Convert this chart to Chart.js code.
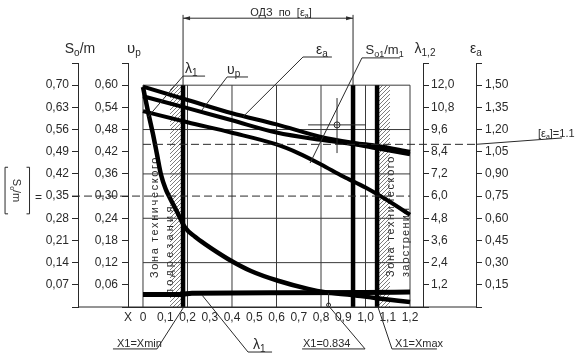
<!DOCTYPE html>
<html lang="ru">
<head>
<meta charset="utf-8">
<title>Номограмма</title>
<script src="https://cdn.jsdelivr.net/npm/chart.js@4.4.1/dist/chart.umd.min.js"></script>
<style>
  html, body { margin: 0; padding: 0; background: #fff; }
  canvas { display: block; }
</style>
</head>
<body>
<canvas id="nomo" width="578" height="359"></canvas>
<script>
// feed X
const xTicks = [0, 0.1, 0.2, 0.3, 0.4, 0.5, 0.6, 0.7, 0.8, 0.9, 1.0, 1.1, 1.2]
const gridX = [0, 0.2, 0.4, 0.6, 0.8, 1.0, 1.2]

// tick labels of the four value axes (ten labelled steps + one spare on top)
const swTicks = [0.07, 0.14, 0.21, 0.28, 0.35, 0.42, 0.49, 0.56, 0.63, 0.70]
const vpTicks = [0.06, 0.12, 0.18, 0.24, 0.30, 0.36, 0.42, 0.48, 0.54, 0.60]
const lambdaTicks = [1.2, 2.4, 3.6, 4.8, 6.0, 7.2, 8.4, 9.6, 10.8, 12.0]
const epsTicks = [0.15, 0.30, 0.45, 0.60, 0.75, 0.90, 1.05, 1.20, 1.35, 1.50]
const swMax = 0.77, vpMax = 0.66, lambdaMax = 13.2, epsMax = 1.65
const gridSw = [0.14, 0.28, 0.42, 0.56, 0.70]

// curves
const lineX = [0, 0.2, 0.4, 0.6, 0.8, 0.95, 1.05, 1.2]
const epsA = [1.49, 1.40, 1.31, 1.235, 1.15, 1.11, 1.09, 1.05]
const vp = [0.570, 0.538, 0.505, 0.472, 0.452, 0.440, 0.429, 0.413]
const s1X = [0, 0.2, 0.4, 0.6, 0.7, 0.8, 0.9, 1.0, 1.1, 1.2]
const s1m1 = [0.618, 0.583, 0.550, 0.513, 0.485, 0.450, 0.412, 0.377, 0.336, 0.291]
const lam2X = [0, 0.022, 0.045, 0.063, 0.081, 0.103, 0.121, 0.153, 0.189, 0.234, 0.279, 0.382, 0.485, 0.607, 0.742, 0.818, 0.939, 1.043, 1.2]
const lam2 = [11.9, 10.6, 9.35, 8.25, 7.15, 6.35, 5.9, 5.15, 4.3, 3.8, 3.4, 2.6, 1.95, 1.42, 0.98, 0.8, 0.65, 0.49, 0.27]
const lam1X = [0, 0.17, 0.22, 0.6, 1.0, 1.2]
const lam1 = [0.68, 0.68, 0.75, 0.77, 0.79, 0.81]

// limits
const xMin = 0.18, xOpt = 0.834, xLim = 0.944, xMax = 1.052
const epsLimit = 1.1, swLimit = 0.35
const cutZone = [0.121, 0.18], sharpZone = [1.052, 1.11]

// layout
const xLo = -0.0674, xHi = 1.2584
const FONT = '"Liberation Sans", Arial, sans-serif'
const INK = "#2a2a2a"
const GRID = "#3a3a3a"

const fmt = (v, d) => v === 0 ? "0" : v.toFixed(d).replace(".", ",")
const tickFont = { family: FONT, size: 12 }

const hatch = (() => {
  const c = document.createElement("canvas")
  c.width = 4; c.height = 4
  const g = c.getContext("2d")
  g.strokeStyle = "#444"
  g.lineWidth = 0.7
  g.beginPath()
  g.moveTo(0, 4); g.lineTo(4, 0)
  g.moveTo(-1, 1); g.lineTo(1, -1)
  g.moveTo(3, 5); g.lineTo(5, 3)
  g.stroke()
  return g.createPattern(c, "repeat")
})()

function yAxis(position, weight, max, ticks, digits, width, pad) {
  return {
    type: "linear", position, weight, min: 0, max,
    afterFit: s => { s.width = width },
    afterBuildTicks: s => { s.ticks = [0, ...ticks, max].map(value => ({ value })) },
    grid: { drawOnChartArea: false, color: INK, tickLength: 6 },
    border: { color: INK, width: 1 },
    ticks: { padding: pad, color: INK, font: tickFont, callback: v => ticks.includes(v) ? fmt(v, digits) : "" }
  }
}

const curve = (xs, ys, axis, width) => ({
  data: xs.map((x, i) => ({ x, y: ys[i] })), yAxisID: axis,
  borderColor: "#000", borderWidth: width, pointRadius: 0,
  cubicInterpolationMode: "monotone", fill: false
})
const rule = (pts, width, color) => ({
  data: pts, yAxisID: "ySw", borderColor: color, borderWidth: width,
  pointRadius: 0, tension: 0, fill: false
})
const gridTop = swTicks[swTicks.length - 1]

const datasets = [
  curve(lineX, epsA, "yEps", 4),
  curve(lineX, vp, "yVp", 4),
  curve(s1X, s1m1, "ySw", 4),
  curve(lam2X, lam2, "yLam", 4.5),
  curve(lam1X, lam1, "yLam", 5),
  ...[xMin, xLim, xMax].map(v => rule([{ x: v, y: 0 }, { x: v, y: gridTop }], 4.5, "#000")),
  ...[cutZone, sharpZone].map(([a, b]) => ({
    data: [{ x: a, y: gridTop }, { x: b, y: gridTop }], yAxisID: "ySw",
    borderWidth: 0, borderColor: "rgba(0,0,0,0)", pointRadius: 0,
    fill: "origin", backgroundColor: hatch
  })),
  ...gridX.map(v => rule([{ x: v, y: 0 }, { x: v, y: gridTop }], 1, GRID)),
  ...gridSw.map(v => rule([{ x: xTicks[0], y: v }, { x: xTicks[xTicks.length - 1], y: v }], 1, GRID))
]

// text helpers: "S_{o}/m" draws "o" as a subscript
function rich(ctx, src, x, y, align, size) {
  const parts = src.split(/_\{|\}/)
  const fonts = parts.map((_, i) => (i % 2 ? Math.round(size * 0.68) : size) + "px " + FONT)
  const widths = parts.map((t, i) => { ctx.font = fonts[i]; return ctx.measureText(t).width })
  const total = widths.reduce((a, b) => a + b, 0)
  let cx = align === "center" ? x - total / 2 : align === "right" ? x - total : x
  ctx.textAlign = "left"
  ctx.textBaseline = "alphabetic"
  parts.forEach((t, i) => {
    ctx.font = fonts[i]
    ctx.fillText(t, cx, i % 2 ? y + size * 0.22 : y)
    cx += widths[i]
  })
}
function stroke(ctx, pts) {
  ctx.beginPath()
  pts.forEach(([a, b], i) => i ? ctx.lineTo(a, b) : ctx.moveTo(a, b))
  ctx.stroke()
}

// callouts: text anchor and leader path, in (feed, grid step) units
const leaders = [
  { text: "λ_{1}", size: 14, tx: 0.189, tg: 10.55, path: [[0.279, 10.41], [0.18, 10.41], [0.0225, 8.57]] },
  { text: "υ_{p}", size: 14, tx: 0.378, tg: 10.5, path: [[0.472, 10.37], [0.378, 10.37], [0.265, 8.88]] },
  { text: "ε_{a}", size: 14, tx: 0.778, tg: 11.41, path: [[0.849, 11.27], [0.719, 11.27], [0.449, 8.57]] },
  { text: "S_{o1}/m_{1}", size: 13, tx: 1.0, tg: 11.41, path: [[1.155, 11.23], [0.984, 11.23], [0.751, 6.49]] },
  { text: "X1=Xmin", size: 11, tx: -0.117, tg: -1.8, path: [[-0.135, -1.89], [0.063, -1.89], [0.18, -0.05]] },
  { text: "λ_{1}", size: 14, tx: 0.494, tg: -1.89, path: [[0.58, -2.03], [0.472, -2.03], [0.265, 0.54]] },
  { text: "X1=0.834", size: 11, tx: 0.719, tg: -1.8, path: [[0.715, -1.89], [0.998, -1.89], [0.831, 0.09]] },
  { text: "X1=Xmax", size: 11, tx: 1.133, tg: -1.8, path: [[1.321, -1.89], [1.119, -1.89], [1.056, 0]] }
]
const zoneTexts = [
  { text: "Зона технического", x: 0.054, g: 1.31, gap: 1.6 },
  { text: "подрезания", x: 0.121, g: 0.54, gap: 3.2 },
  { text: "Зона технического", x: 1.115, g: 1.35, gap: 1.6 },
  { text: "заострения", x: 1.182, g: 1.35, gap: 1.2 }
]

const notes = {
  id: "notes",
  beforeDatasetsDraw(chart) {
    const { ctx, scales: { x, ySw } } = chart
    const at = (xv, g) => [x.getPixelForValue(xv), ySw.getPixelForValue(g * swTicks[0])]
    ctx.save()
    ctx.fillStyle = INK
    ctx.font = "11px " + FONT
    zoneTexts.forEach(z => {
      const [px, py] = at(z.x, z.g)
      ctx.save()
      ctx.translate(px, py)
      ctx.rotate(-Math.PI / 2)
      ctx.letterSpacing = z.gap + "px"
      ctx.textAlign = "left"
      ctx.textBaseline = "middle"
      ctx.fillText(z.text, 0, 0)
      ctx.restore()
    })
    ctx.restore()
  },
  afterDatasetsDraw(chart) {
    const { ctx, scales: { x, ySw, yVp, yLam, yEps } } = chart
    const at = (xv, g) => [x.getPixelForValue(xv), ySw.getPixelForValue(g * swTicks[0])]
    ctx.save()
    ctx.strokeStyle = INK
    ctx.fillStyle = INK
    ctx.lineWidth = 1

    // bottom line running through all four axes
    const y0 = ySw.getPixelForValue(0)
    stroke(ctx, [[ySw.right, y0], [yEps.left, y0]])

    // admissible range dimension
    const xa = x.getPixelForValue(xMin), xb = x.getPixelForValue(xLim)
    const yTop = at(0, 10)[1], yExt = at(0, 13.17)[1], yDim = at(0, 13.02)[1]
    stroke(ctx, [[xa, yTop], [xa, yExt]])
    stroke(ctx, [[xb, yTop], [xb, yExt]])
    stroke(ctx, [[xa, yDim], [xb, yDim]])
    ;[[xa, 1], [xb, -1]].forEach(([t, d]) => {
      ctx.beginPath()
      ctx.moveTo(t, yDim); ctx.lineTo(t + d * 7, yDim - 2); ctx.lineTo(t + d * 7, yDim + 2)
      ctx.closePath(); ctx.fill()
    })
    rich(ctx, "ОДЗ  по  [ε_{a}]", ...at(0.62, 13.12), "center", 11)

    // limit lines
    ctx.setLineDash([8, 4])
    const ye = yEps.getPixelForValue(epsLimit)
    stroke(ctx, [[x.getPixelForValue(0), ye], [yEps.left, ye]])
    const ys = ySw.getPixelForValue(swLimit)
    stroke(ctx, [[at(-0.319, 0)[0], ys], [x.getPixelForValue(1.2), ys]])
    ctx.setLineDash([])
    stroke(ctx, [[yEps.left, ye], at(1.883, 7.62)])
    rich(ctx, "[ε_{a}]=1.1", ...at(1.775, 7.68), "left", 11)

    // left limit label [S/m] =
    ctx.save()
    ctx.translate(...at(-0.568, 5.25))
    ctx.rotate(Math.PI / 2)
    rich(ctx, "S_{o}/m", 0, 4, "center", 11)
    ctx.restore()
    const [bx, by] = at(-0.62, 6.3), [bx2, by2] = at(-0.51, 4.2)
    stroke(ctx, [[bx + 3, by], [bx, by], [bx, by2], [bx + 3, by2]])
    stroke(ctx, [[bx2 - 3, by], [bx2, by], [bx2, by2], [bx2 - 3, by2]])
    rich(ctx, "=", ...at(-0.485, 4.8), "left", 12)

    // crosshair marker
    const [cx, cy] = at(0.872, 8.21)
    stroke(ctx, [at(0.742, 8.21), at(1.002, 8.21)])
    stroke(ctx, [at(0.872, 9.42), at(0.872, 6.94)])
    ctx.beginPath(); ctx.arc(cx, cy, 3, 0, Math.PI * 2); ctx.stroke()

    // intersection point on the feed axis
    const [ox, oy] = at(xOpt, 0.09)
    stroke(ctx, [[ox, oy], at(xOpt, 0.63)])
    ctx.beginPath(); ctx.arc(ox, oy, 2, 0, Math.PI * 2); ctx.stroke()

    // callouts
    leaders.forEach(l => {
      stroke(ctx, l.path.map(p => at(...p)))
      rich(ctx, l.text, ...at(l.tx, l.tg), "left", l.size)
    })

    // axis titles
    const ty = at(0, 11.45)[1]
    rich(ctx, "S_{o}/m", ySw.right + 2, ty, "center", 14)
    rich(ctx, "υ_{p}", yVp.right + 6, ty, "center", 15)
    rich(ctx, "λ_{1,2}", yLam.left + 2, ty, "center", 14)
    rich(ctx, "ε_{a}", yEps.left, ty, "center", 14)
    ctx.restore()
  }
}

new Chart(document.getElementById("nomo"), {
  type: "line",
  data: { datasets },
  plugins: [notes],
  options: {
    responsive: false,
    animation: false,
    devicePixelRatio: 1,
    layout: { padding: { top: 63, left: 0, right: 0, bottom: 0 } },
    plugins: { legend: { display: false }, tooltip: { enabled: false } },
    scales: {
      x: {
        type: "linear", min: xLo, max: xHi,
        afterFit: s => { s.height = 52 },
        afterBuildTicks: s => { s.ticks = [xLo, ...xTicks].map(value => ({ value })) },
        grid: { display: false, drawTicks: false },
        border: { display: true, color: INK, width: 1 },
        ticks: { padding: 3, color: INK, font: tickFont, autoSkip: false, maxRotation: 0,
          callback: v => v === xLo ? "X" : fmt(v, 1) }
      },
      ySw: yAxis("left", 2, swMax, swTicks, 2, 78, 3),
      yVp: yAxis("left", 1, vpMax, vpTicks, 2, 50, 4),
      yLam: yAxis("right", 1, lambdaMax, lambdaTicks, 1, 53, 2),
      yEps: yAxis("right", 2, epsMax, epsTicks, 2, 102, 3)
    }
  }
})
</script>
</body>
</html>
